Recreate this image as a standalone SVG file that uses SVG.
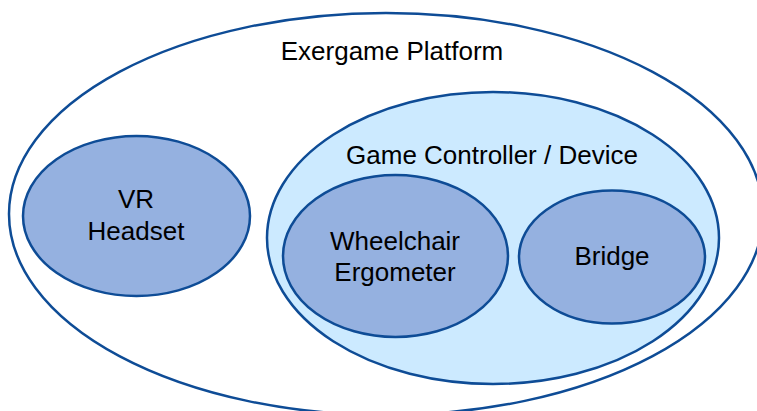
<svg xmlns="http://www.w3.org/2000/svg" width="757" height="411" viewBox="0 0 757 411">
  <style>
    .ring { stroke: #0E4C96; stroke-width: 2.5; }
    .outer { fill: #FFFFFF; }
    .group { fill: #CCEAFF; }
    .part { fill: #95B1E0; }
    text { font-family: "Liberation Sans", Arial, sans-serif; fill: #000000; text-anchor: middle; font-size: 26px; }
  </style>
  <rect width="757" height="411" fill="#FFFFFF"/>

  <g id="exergame-platform">
    <ellipse class="ring outer" cx="386" cy="214" rx="377" ry="201"/>
    <text x="392" y="60">Exergame Platform</text>
  </g>

  <g id="vr-headset">
    <ellipse class="ring part" cx="136.5" cy="216" rx="113.5" ry="80"/>
    <text x="136" y="208">VR</text>
    <text x="136" y="240">Headset</text>
  </g>

  <g id="game-controller">
    <ellipse class="ring group" cx="493" cy="238" rx="226" ry="146"/>
    <text x="492" y="164">Game Controller / Device</text>
  </g>

  <g id="wheelchair-ergometer">
    <ellipse class="ring part" cx="395.5" cy="256" rx="112.5" ry="81"/>
    <text x="395" y="250">Wheelchair</text>
    <text x="395" y="281">Ergometer</text>
  </g>

  <g id="bridge">
    <ellipse class="ring part" cx="612" cy="257" rx="93" ry="66.5"/>
    <text x="612" y="265">Bridge</text>
  </g>

  <g id="connectors"></g>
</svg>
